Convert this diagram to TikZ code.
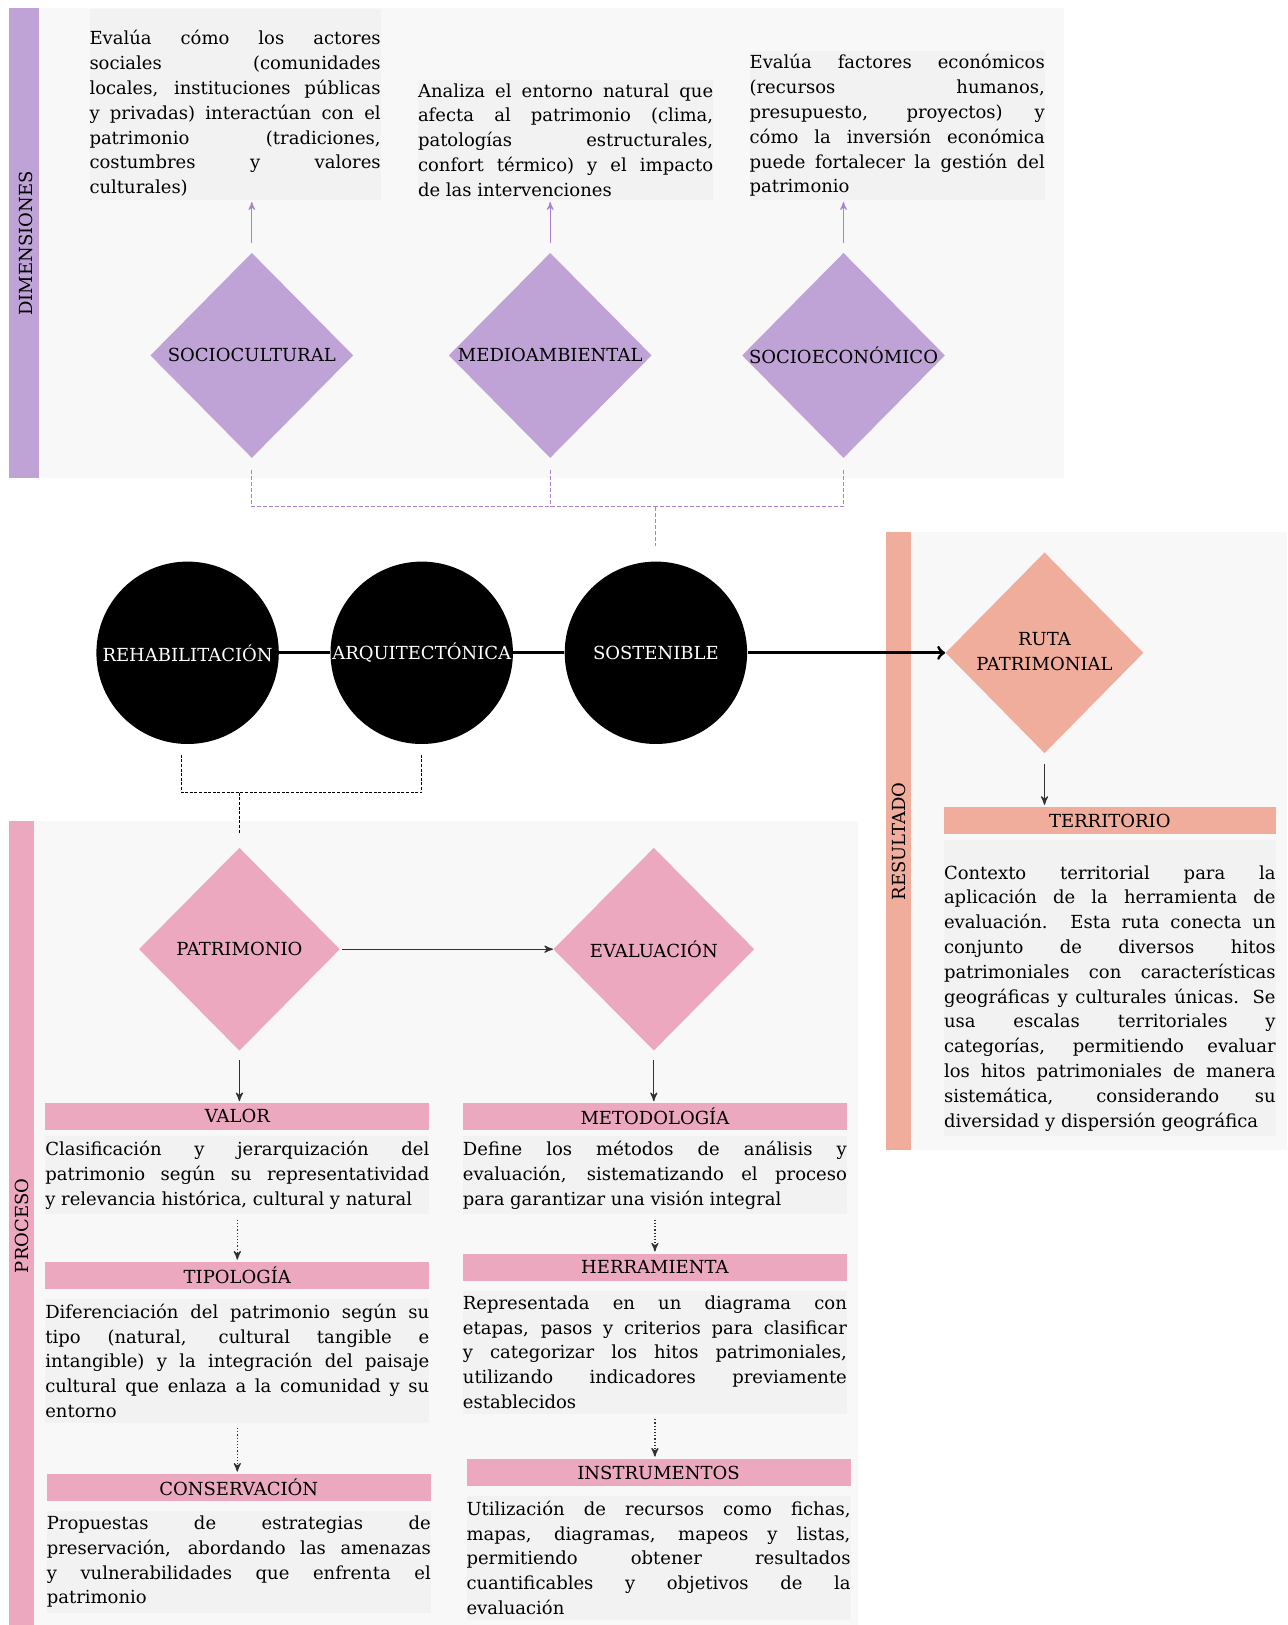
\documentclass[tikz,border=0pt]{standalone}
\usepackage{fontspec}
\setmainfont{DejaVu Serif}
\usepackage{tikz}
\usetikzlibrary{arrows,calc,backgrounds,positioning,shapes.geometric}
\usepackage{color}

\definecolor{dimcol}{RGB}{192,163,214}
\definecolor{proccol}{RGB}{236,168,191}
\definecolor{rescol}{RGB}{240,173,155}
\definecolor{panelgray}{RGB}{248,248,248}
\definecolor{boxgray}{RGB}{242,242,242}
\definecolor{dimline}{RGB}{170,130,210}
\definecolor{arrgray}{RGB}{50,50,50}

\newcommand{\txtsize}{\fontsize{9}{12.4}\selectfont}
\tolerance=10000
\hbadness=10000
\hyphenpenalty=10000
\exhyphenpenalty=10000

\tikzset{
  every node/.append style={font=\txtsize},
  sidelabel/.style={rotate=90, inner sep=0pt},
  dimdiamond/.style={diamond, fill=dimcol, inner sep=0pt, minimum width=101.5pt, minimum height=102.6pt},
  procdiamond/.style={diamond, fill=proccol, inner sep=0pt, minimum width=100.5pt, minimum height=101.5pt},
  resdiamond/.style={diamond, fill=rescol, inner sep=0pt, minimum width=99pt, minimum height=100.5pt},
  blackcirc/.style={circle, fill=black, text=white, inner sep=0pt, minimum size=91.2pt},
  dimtxt/.style={fill=boxgray, align=justify, inner xsep=0pt, inner ysep=1.5pt, text width=147.6pt},
  prochead/.style={fill=proccol, minimum width=192pt, minimum height=13.5pt, inner sep=0pt},
  reshead/.style={fill=rescol, minimum width=165.8pt, minimum height=13.5pt, inner sep=0pt},
  bodytxt/.style={fill=boxgray, align=justify, inner xsep=0pt, inner ysep=2.5pt, text width=192pt},
  dimarrow/.style={->, >=stealth', draw=dimline, line width=0.5pt, shorten <=4.5pt, shorten >=1pt},
  dimdash/.style={draw=dimline, line width=0.5pt, dash pattern=on 2pt off 1pt, shorten <=5.7pt},
  blkdash/.style={draw=black, line width=0.5pt, dash pattern=on 1.5pt off 0.8pt, shorten <=5.2pt},
  thickline/.style={draw=black, line width=1.5pt},
  procarrow/.style={->, >=stealth', draw=arrgray, line width=0.6pt},
  dotarrow/.style={->, >=stealth', draw=arrgray, line width=0.6pt, densely dotted, shorten <=2.5pt, shorten >=1pt}
}

\begin{document}
\begin{tikzpicture}[x=0.5pt,y=-0.5pt]
    \useasboundingbox (0,0) rectangle (1287,1625);
    \fill[white] (0,0) rectangle (1287,1625);

    % the panels and their bars
    \fill[panelgray] (9.3,8.3) rectangle (1064,477.7);
    \fill[dimcol] (9.3,8.3) rectangle (39.4,477.7);
    \fill[panelgray] (886,531.6) rectangle (1287,1150.2);
    \fill[rescol] (886,531.6) rectangle (910.8,1150.2);
    \fill[panelgray] (9.3,820.7) rectangle (858,1625);
    \fill[proccol] (9.3,820.7) rectangle (34.2,1625);

    \node[sidelabel] (dimlab) at (26,243.5) {DIMENSIONES};
    \node[sidelabel] (reslab) at (899,841.4) {RESULTADO};
    \node[sidelabel] (proclab) at (22,1225.8) {PROCESO};

    % the dimensions
    \node[dimdiamond] (socio) at (251.8,355.4) {\makebox[0pt]{SOCIOCULTURAL}};
    \node[dimdiamond] (medio) at (550.2,355.4) {\makebox[0pt]{MEDIOAMBIENTAL}};
    \node[dimdiamond] (socioeco) at (843.5,355.4) {\makebox[0pt]{SOCIOECONÓMICO}};

    \node[dimtxt, text width=145.6pt, anchor=south west] (sctext) at (89.1,200)
        {\rule{0pt}{16.5pt}Evalúa cómo los actores\linebreak sociales (comunidades\linebreak locales, instituciones públicas\linebreak y privadas) interactúan con el\linebreak patrimonio (tradiciones,\linebreak costumbres y valores\linebreak culturales)};
    \node[dimtxt, anchor=south west] (matext) at (417.6,200)
        {Analiza el entorno natural que\linebreak afecta al patrimonio (clima,\linebreak patologías estructurales,\linebreak confort térmico) y el impacto\linebreak de las intervenciones};
    \node[dimtxt, anchor=south west] (setext) at (749.2,200)
        {Evalúa factores económicos\linebreak (recursos humanos,\linebreak presupuesto, proyectos) y\linebreak cómo la inversión económica\linebreak puede fortalecer la gestión del\linebreak patrimonio};

    \draw[dimarrow] (socio.north) -- (socio.north |- sctext.south);
    \draw[dimarrow] (medio.north) -- (medio.north |- matext.south);
    \draw[dimarrow] (socioeco.north) -- (socioeco.north |- setext.south);

    % the central chain
    \node[blackcirc] (rehab) at (187.6,652.8) {REHABILITACIÓN};
    \node[blackcirc] (arq) at (421.7,652.8) {ARQUITECTÓNICA};
    \node[blackcirc] (sost) at (655.9,652.8) {SOSTENIBLE};
    \node[resdiamond] (ruta) at (1044.5,652.8)
        {\makebox[0pt]{\begin{tabular}{@{}c@{}}RUTA\\PATRIMONIAL\end{tabular}}};

    \draw[thickline] (rehab) -- (arq);
    \draw[thickline] (arq) -- (sost);
    \draw[thickline, ->] (sost) -- (ruta);

    \coordinate (djoin) at (655.9,506.7);
    \draw[dimdash] (socio.south) |- (djoin);
    \draw[dimdash] (socioeco.south) |- (djoin);
    \draw[dimdash] (medio.south) -- (medio.south |- djoin);
    \draw[dimdash, shorten <=0pt, shorten >=7.8pt] (djoin) -- (sost.north);

    \coordinate (pjoin) at (239.4,792.7);
    \draw[blkdash] ([xshift=-3pt]rehab.south) |- (pjoin);
    \draw[blkdash] (arq.south) |- (pjoin);

    % the result
    \node[reshead] (terr) at (1109.8,820.7) {TERRITORIO};
    \node[bodytxt, text width=165.8pt, below=2.5pt of terr] (terrtxt)
        {\rule{0pt}{17pt}Contexto territorial para la\linebreak aplicación de la herramienta de\linebreak evaluación. Esta ruta conecta un\linebreak conjunto de diversos hitos\linebreak patrimoniales con características\linebreak geográficas y culturales únicas. Se\linebreak usa escalas territoriales y\linebreak categorías, permitiendo evaluar\linebreak los hitos patrimoniales de manera\linebreak sistemática, considerando su\linebreak diversidad y dispersión geográfica};
    \draw[procarrow, shorten <=5pt, shorten >=1pt] (ruta.south) -- (ruta.south |- terr.north);

    % the process
    \node[procdiamond] (patri) at (239.4,949.2) {\makebox[0pt]{PATRIMONIO}};
    \node[procdiamond] (eval) at (653.8,949.2) {\makebox[0pt]{EVALUACIÓN}};
    \draw[blkdash, shorten <=0pt, shorten >=6.8pt] (pjoin) -- (patri.north);
    \draw[procarrow, shorten <=1pt] (patri) -- (eval);

    \node[prochead] (valor) at (237.3,1116) {VALOR};
    \node[bodytxt, below=3pt of valor] (valortxt)
        {Clasificación y jerarquización del\linebreak patrimonio según su representatividad\linebreak y relevancia histórica, cultural y natural};
    \node[prochead] (tipo) at (237.3,1275.5) {TIPOLOGÍA};
    \node[bodytxt, below=4.5pt of tipo] (tipotxt)
        {Diferenciación del patrimonio según su\linebreak tipo (natural, cultural tangible e\linebreak intangible) y la integración del paisaje\linebreak cultural que enlaza a la comunidad y su\linebreak entorno};
    \node[prochead] (conserv) at (238.8,1487.5) {CONSERVACIÓN};
    \node[bodytxt, below=4.5pt of conserv] (conservtxt)
        {Propuestas de estrategias de\linebreak preservación, abordando las amenazas\linebreak y vulnerabilidades que enfrenta el\linebreak patrimonio};

    \node[prochead] (metod) at (654.9,1116) {METODOLOGÍA};
    \node[bodytxt, below=3pt of metod] (metodtxt)
        {Define los métodos de análisis y\linebreak evaluación, sistematizando el proceso\linebreak para garantizar una visión integral};
    \node[prochead] (herr) at (654.9,1267.3) {HERRAMIENTA};
    \node[bodytxt, below=4.5pt of herr] (herrtxt)
        {Representada en un diagrama con\linebreak etapas, pasos y criterios para clasificar\linebreak y categorizar los hitos patrimoniales,\linebreak utilizando indicadores previamente\linebreak establecidos};
    \node[prochead] (instr) at (658.5,1472.5) {INSTRUMENTOS};
    \node[bodytxt, below=4.5pt of instr] (instrtxt)
        {Utilización de recursos como fichas,\linebreak mapas, diagramas, mapeos y listas,\linebreak permitiendo obtener resultados\linebreak cuantificables y objetivos de la\linebreak evaluación};

    % the arrows of the process
    \draw[procarrow, shorten <=4.5pt, shorten >=0.5pt] (patri.south) -- (patri.south |- valor.north);
    \draw[procarrow, shorten <=4.5pt, shorten >=0.5pt] (eval.south) -- (eval.south |- metod.north);
    \draw[dotarrow] (valortxt.south) -- (valortxt.south |- tipo.north);
    \draw[dotarrow] (tipotxt.south) -- (tipotxt.south |- conserv.north);
    \draw[dotarrow] (metodtxt.south) -- (metodtxt.south |- herr.north);
    \draw[dotarrow] (herrtxt.south) -- (herrtxt.south |- instr.north);
\end{tikzpicture}
\end{document}
